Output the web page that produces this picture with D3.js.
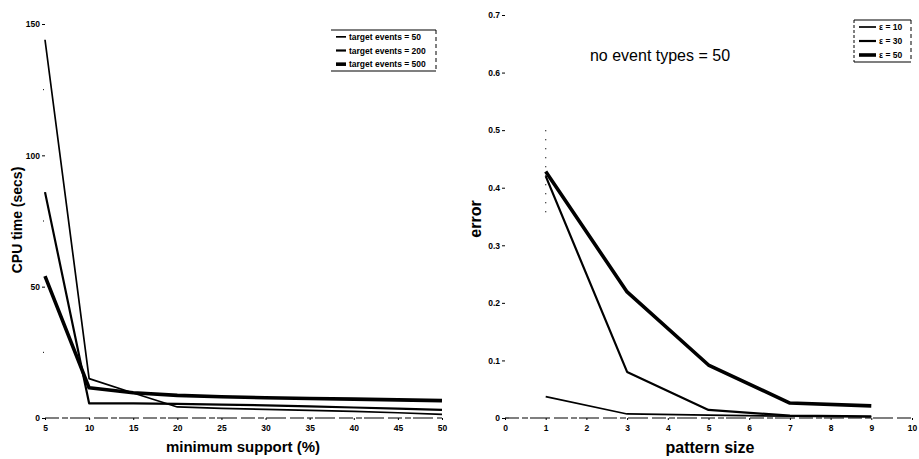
<!DOCTYPE html>
<html>
<head>
<meta charset="utf-8">
<script src="https://cdn.jsdelivr.net/npm/d3@7"></script>
<style>
  body { margin: 0; background: #fff; }
  svg { display: block; }
  .tick text { font-family: "Liberation Sans", Arial, sans-serif; font-weight: bold; font-size: 8.5px; fill: #000; }
  .tick line { stroke: #000; }
  .axis-title { font-family: "Liberation Sans", Arial, sans-serif; font-weight: bold; fill: #000; }
  .leg text { font-family: "Liberation Sans Narrow", "Liberation Sans", Arial, sans-serif; font-size: 7px; fill: #000; }
</style>
</head>
<body>
<svg width="919" height="459"></svg>
<script>
// left panel: CPU time vs minimum support
var supportX = [5, 10, 15, 20, 25, 30, 35, 40, 45, 50];
var cpuEvents50 = [144, 15, 9.5, 4.2, 3.7, 3.3, 2.9, 2.5, 2.0, 1.4];
var cpuEvents200 = [86, 5.6, 5.6, 5.4, 5.1, 4.8, 4.4, 4.0, 3.6, 3.1];
var cpuEvents500 = [54, 11.5, 9.6, 8.6, 8.1, 7.7, 7.4, 7.2, 6.9, 6.6];
var cpuLegend = ["target events = 50", "target events = 200", "target events = 500"];
var cpuTicks = [0, 50, 100, 150];
var cpuMinorTicks = [25, 75, 125];
var supportTicks = [5, 10, 15, 20, 25, 30, 35, 40, 45, 50];

// right panel: error vs pattern size
var patternX = [1, 3, 5, 7, 9];
var errEps10 = [0.037, 0.007, 0.005, 0.003, 0.002];
var errEps30 = [0.42, 0.080, 0.014, 0.004, 0.003];
var errEps50 = [0.428, 0.219, 0.092, 0.026, 0.021];
var errBarAt1 = [0.35, 0.5];
var errLegend = ["ε = 10", "ε = 30", "ε = 50"];
var errTicks = [0, 0.1, 0.2, 0.3, 0.4, 0.5, 0.6, 0.7];
var patternTicks = [0, 1, 2, 3, 4, 5, 6, 7, 8, 9, 10];

var widths = [1.7, 2.2, 3.6];
var svg = d3.select("svg");

function panel(opt) {
  var x = d3.scaleLinear().domain(opt.xDomain).range(opt.xRange),
      y = d3.scaleLinear().domain(opt.yDomain).range(opt.yRange);
  var g = svg.append("g");

  // dashed baseline, like the scan
  g.append("line")
      .attr("x1", x(opt.xDomain[0])).attr("x2", x(opt.xDomain[1]))
      .attr("y1", y(0)).attr("y2", y(0))
      .attr("stroke", "#000").attr("stroke-width", 1.2)
      .attr("stroke-dasharray", "14,3,6,2,20,4");

  var ya = g.append("g")
      .attr("transform", "translate(" + opt.xRange[0] + ",0)")
      .call(d3.axisLeft(y).tickValues(opt.yTicks).tickSize(3).tickPadding(2).tickFormat(opt.yFormat));
  ya.select(".domain").remove();

  if (opt.minor) {
    g.selectAll(".minor").data(opt.minor).enter().append("line")
        .attr("x1", x(opt.xDomain[0]) - 2).attr("x2", x(opt.xDomain[0]) - 1)
        .attr("y1", function(d) { return y(d); }).attr("y2", function(d) { return y(d); })
        .attr("stroke", "#000");
  }

  var xa = g.append("g")
      .attr("transform", "translate(0," + opt.yRange[0] + ")")
      .call(d3.axisBottom(x).tickValues(opt.xTicks).tickSize(2).tickPadding(5));
  xa.select(".domain").remove();

  var line = d3.line()
      .x(function(d) { return x(d[0]); })
      .y(function(d) { return y(d[1]); });

  opt.series.forEach(function(s, i) {
    g.append("path")
        .datum(opt.xs.map(function(v, j) { return [v, s[j]]; }))
        .attr("fill", "none")
        .attr("stroke", "#000")
        .attr("stroke-width", widths[i])
        .attr("stroke-linejoin", "round")
        .attr("d", line);
  });

  g.append("text").attr("class", "axis-title")
      .attr("x", opt.xLabelPos[0]).attr("y", opt.xLabelPos[1])
      .attr("text-anchor", "middle")
      .style("font-size", opt.xLabelSize + "px")
      .text(opt.xLabel);

  g.append("text").attr("class", "axis-title")
      .attr("transform", "translate(" + opt.yLabelPos[0] + "," + opt.yLabelPos[1] + ") rotate(-90)")
      .attr("text-anchor", "middle")
      .style("font-size", opt.yLabelSize + "px")
      .text(opt.yLabel);

  // legend box
  var b = opt.legendBox;
  var leg = g.append("g").attr("class", "leg");
  leg.append("line").attr("x1", b[0]).attr("x2", b[2]).attr("y1", b[1]).attr("y2", b[1]).attr("stroke", "#000").attr("stroke-width", 1.2);
  leg.append("line").attr("x1", b[0]).attr("x2", b[2]).attr("y1", b[3]).attr("y2", b[3]).attr("stroke", "#000").attr("stroke-width", 1.2);
  if (opt.legendSides) {
    leg.append("line").attr("x1", b[0]).attr("x2", b[0]).attr("y1", b[1]).attr("y2", b[3]).attr("stroke", "#000").attr("stroke-dasharray", "3,2");
  }
  leg.append("line").attr("x1", b[2]).attr("x2", b[2]).attr("y1", b[1]).attr("y2", b[3]).attr("stroke", "#000").attr("stroke-dasharray", "4,3");
  var rowH = (b[3] - b[1]) / opt.legend.length;
  opt.legend.forEach(function(t, i) {
    var yy = b[1] + rowH * (i + 0.5);
    leg.append("line")
        .attr("x1", b[0] + 5).attr("x2", b[0] + opt.legendLine)
        .attr("y1", yy).attr("y2", yy)
        .attr("stroke", "#000").attr("stroke-width", widths[i]);
    leg.append("text")
        .attr("x", b[0] + opt.legendLine + 3).attr("y", yy + 3)
        .style("font-size", opt.legendFont + "px")
        .style("font-weight", "bold")
        .text(t);
  });

  return {x: x, y: y, g: g};
}

panel({
  xDomain: [5, 50], xRange: [45, 442],
  yDomain: [0, 150], yRange: [418, 24],
  yTicks: cpuTicks, minor: cpuMinorTicks, yFormat: d3.format("d"),
  xTicks: supportTicks, xs: supportX,
  series: [cpuEvents50, cpuEvents200, cpuEvents500],
  xLabel: "minimum support (%)", xLabelPos: [243, 452], xLabelSize: 15,
  yLabel: "CPU time (secs)", yLabelPos: [22, 220], yLabelSize: 14,
  legend: cpuLegend, legendBox: [331, 30, 436, 71], legendLine: 15, legendFont: 8.5
});

var r = panel({
  xDomain: [0, 10], xRange: [505, 912],
  yDomain: [0, 0.7], yRange: [418, 15],
  yTicks: errTicks, yFormat: function(d) { return d === 0 ? "0" : d3.format(".1f")(d); },
  xTicks: patternTicks, xs: patternX,
  series: [errEps10, errEps30, errEps50],
  xLabel: "pattern size", xLabelPos: [710, 453], xLabelSize: 16,
  yLabel: "error", yLabelPos: [481, 219], yLabelSize: 16,
  legend: errLegend, legendBox: [854, 20, 911, 62], legendLine: 22, legendFont: 8.5, legendSides: true
});

// faint dotted error bar at pattern size 1
r.g.append("line")
    .attr("x1", r.x(1)).attr("x2", r.x(1))
    .attr("y1", r.y(errBarAt1[1])).attr("y2", r.y(errBarAt1[0]))
    .attr("stroke", "#000").attr("stroke-width", 1.2)
    .attr("stroke-dasharray", "1,8");

r.g.append("text").attr("class", "axis-title")
    .attr("x", 660).attr("y", 61)
    .attr("text-anchor", "middle")
    .style("font-size", "16px").style("font-weight", "normal")
    .text("no event types = 50");
</script>
</body>
</html>
